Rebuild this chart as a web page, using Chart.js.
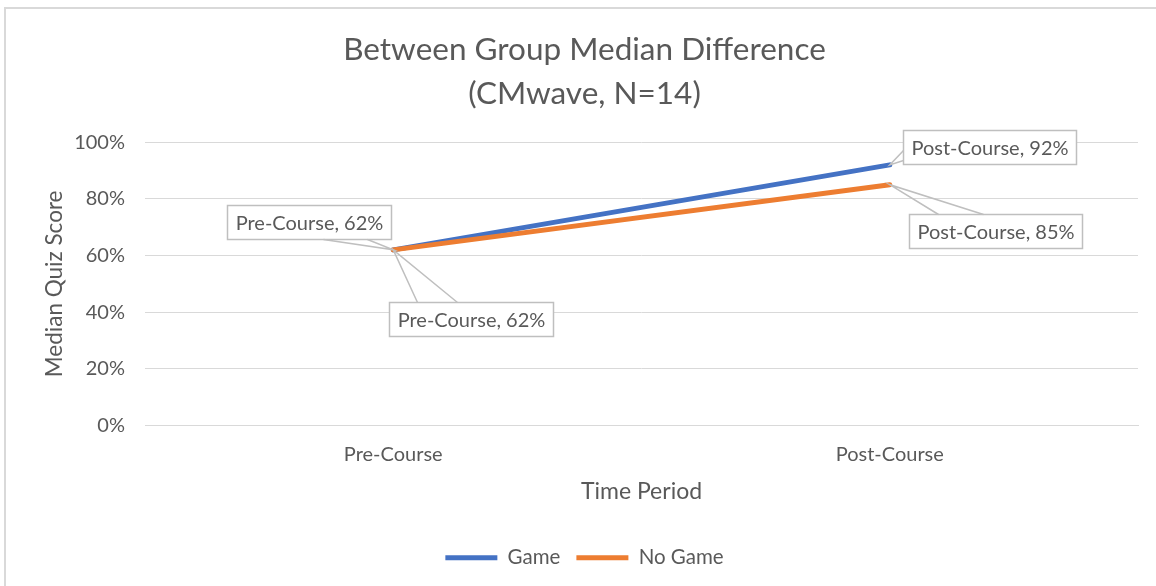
<!DOCTYPE html>
<html>
<head>
<meta charset="utf-8">
<script src="https://cdn.jsdelivr.net/npm/chart.js@4.4.0/dist/chart.umd.min.js"></script>
<style>
  html, body { margin: 0; padding: 0; background: #fff; }
  #wrap { position: relative; width: 1156px; height: 586px; overflow: hidden; }
  #frame { position: absolute; left: 4px; top: 7px; width: 1170px; height: 620px;
           border-left: 2px solid #d9d9d9; border-top: 2px solid #d9d9d9; }
  canvas { position: absolute; left: 0; top: 0; }
</style>
</head>
<body>
<div id="wrap">
  <div id="frame"></div>
  <canvas id="chart" width="1156" height="586"></canvas>
</div>
<script>
const categories = ['Pre-Course', 'Post-Course'];
const gameScores = [62, 92];
const noGameScores = [62, 85];
const seriesNames = ['Game', 'No Game'];
const chartTitle = ['Between Group Median Difference', '(CMwave, N=14)'];

const FONT = 'Lato, "Open Sans", sans-serif';
const GREY = '#595959';

// where each callout box sits relative to its point, and where the pointer meets the box
const calloutSpots = [
  [{ dx: -166, dy: -45, side: 'bottom', a: 96, b: 140 }, { dx: 13, dy: -35, side: 'left', a: 20, b: 30 }],
  [{ dx: -4, dy: 52, side: 'top', a: 28, b: 68 }, { dx: 19, dy: 29, side: 'top', a: 29, b: 74 }]
];

const calloutPlugin = {
  id: 'callouts',
  afterDatasetsDraw(chart) {
    const ctx = chart.ctx;
    ctx.save();
    ctx.font = '20px ' + FONT;
    chart.data.datasets.forEach((ds, di) => {
      const meta = chart.getDatasetMeta(di);
      meta.data.forEach((pt, i) => {
        const spot = calloutSpots[di][i];
        const text = chart.data.labels[i] + ', ' + ds.data[i] + '%';
        const w = Math.round(ctx.measureText(text).width + 16);
        const h = 34;
        const bx = Math.round(pt.x + spot.dx) + 0.5;
        const by = Math.round(pt.y + spot.dy) + 0.5;

        let p1, p2;
        if (spot.side === 'bottom') { p1 = [bx + spot.a, by + h]; p2 = [bx + spot.b, by + h]; }
        else if (spot.side === 'top') { p1 = [bx + spot.a, by]; p2 = [bx + spot.b, by]; }
        else { p1 = [bx, by + spot.a]; p2 = [bx, by + spot.b]; }

        ctx.fillStyle = '#fff';
        ctx.strokeStyle = '#bfbfbf';
        ctx.lineWidth = 1.5;
        ctx.fillRect(bx, by, w, h);
        ctx.strokeRect(bx, by, w, h);

        ctx.beginPath();
        ctx.moveTo(p1[0], p1[1]);
        ctx.lineTo(pt.x, pt.y);
        ctx.lineTo(p2[0], p2[1]);
        ctx.stroke();

        ctx.fillStyle = GREY;
        ctx.textAlign = 'center';
        ctx.textBaseline = 'middle';
        ctx.fillText(text, bx + w / 2, by + h / 2 + 1);
      });
    });
    ctx.restore();
  }
};

new Chart(document.getElementById('chart'), {
  type: 'line',
  data: {
    labels: categories,
    datasets: [
      {
        label: seriesNames[0],
        data: gameScores,
        borderColor: '#4472c4',
        backgroundColor: '#4472c4',
        borderWidth: 5,
        borderCapStyle: 'round',
        pointRadius: 0,
        order: 1
      },
      {
        label: seriesNames[1],
        data: noGameScores,
        borderColor: '#ed7d31',
        backgroundColor: '#ed7d31',
        borderWidth: 5,
        borderCapStyle: 'round',
        pointRadius: 0,
        order: 0
      }
    ]
  },
  options: {
    responsive: false,
    animation: false,
    layout: { padding: { left: 31, right: 18, top: 0, bottom: 8 } },
    plugins: {
      title: {
        display: true,
        text: chartTitle,
        color: GREY,
        font: { family: FONT, size: 31.5, weight: 'normal', lineHeight: 1.4 },
        padding: { top: 28, bottom: 26 }
      },
      legend: {
        position: 'bottom',
        labels: {
          color: GREY,
          font: { family: FONT, size: 20.5 },
          usePointStyle: true,
          pointStyle: 'line',
          pointStyleWidth: 52,
          padding: 16,
          sort: (a, b) => a.datasetIndex - b.datasetIndex
        }
      },
      tooltip: { enabled: false }
    },
    scales: {
      x: {
        offset: true,
        grid: { display: false, drawTicks: false },
        border: { color: '#d9d9d9', width: 1 },
        ticks: { color: GREY, font: { family: FONT, size: 20 }, padding: 17 },
        title: {
          display: true,
          text: 'Time Period',
          color: GREY,
          font: { family: FONT, size: 23 },
          padding: { top: 10, bottom: 26.5 }
        },
        afterFit: (scale) => { scale.height = 106; }
      },
      y: {
        min: 0,
        max: 100,
        grid: { color: '#d9d9d9', drawTicks: false },
        border: { display: false },
        ticks: {
          stepSize: 20,
          color: GREY,
          font: { family: FONT, size: 20 },
          padding: 20,
          callback: (v) => v + '%'
        },
        title: {
          display: true,
          text: 'Median Quiz Score',
          color: GREY,
          font: { family: FONT, size: 22.5 },
          padding: { top: 10.5, bottom: 0 }
        },
        afterFit: (scale) => { scale.width = 114; }
      }
    }
  },
  plugins: [calloutPlugin]
});
</script>
</body>
</html>
